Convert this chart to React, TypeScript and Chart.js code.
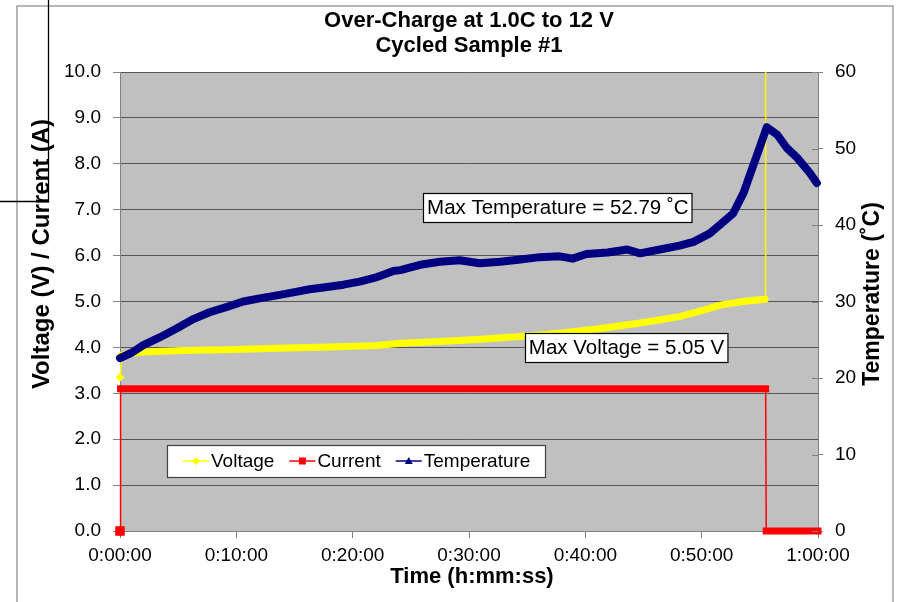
import React, { useEffect, useRef } from 'react';
import { Chart, registerables } from 'chart.js';

Chart.register(...registerables);

const TITLE_LINES = ['Over-Charge at 1.0C to 12 V', 'Cycled Sample #1'];
const X_TITLE = 'Time (h:mm:ss)';
const Y_TITLE = 'Voltage (V) / Current (A)';
const Y2_TITLE = 'Temperature (˚C)';
const SERIES_NAMES = ['Voltage', 'Current', 'Temperature'];
const SERIES_COLORS = ['#FFFF00', '#FF0000', '#000080'];

// time axis in minutes
const X_TICKS = [0, 10, 20, 30, 40, 50, 60];
const Y_TICKS = [0, 1, 2, 3, 4, 5, 6, 7, 8, 9, 10];
const Y2_TICKS = [0, 10, 20, 30, 40, 50, 60];

const voltageTime = [0, 0.15, 1, 2, 5.4, 9, 13.5, 18, 22.1, 24.1, 27.5, 31, 34.4, 37.8, 41, 44.7, 48.1, 50, 51.6, 53.5, 55.0, 55.45, 55.5];
const voltageValues = [3.35, 3.83, 3.87, 3.9, 3.93, 3.95, 3.98, 4.01, 4.04, 4.09, 4.13, 4.18, 4.24, 4.31, 4.4, 4.53, 4.67, 4.8, 4.92, 5.0, 5.04, 5.05, 12];

const currentTime = [0, 0.05, 55.5, 55.55, 60];
const currentValues = [0, 3.1, 3.1, 0, 0];

const tempTime = [0, 1.0, 2.0, 3.4, 4.9, 6.3, 7.7, 9.2, 10.6, 12.0, 13.5, 14.9, 16.3, 17.8, 19.2, 20.6, 22.1, 23.5, 24.1, 25.8, 27.5, 29.2, 30.9, 32.7, 34.4, 36.1, 37.8, 38.9, 40.1, 41.9, 43.6, 44.7, 46.4, 48.1, 49.3, 50.7, 51.4, 52.7, 53.6, 54.3, 55.0, 55.6, 56.5, 57.3, 58.2, 59.3, 59.9];
const tempValues = [22.6, 23.3, 24.3, 25.3, 26.5, 27.7, 28.6, 29.3, 30.0, 30.4, 30.8, 31.2, 31.6, 31.9, 32.2, 32.6, 33.2, 34.0, 34.1, 34.8, 35.2, 35.4, 35.0, 35.2, 35.5, 35.8, 35.9, 35.6, 36.2, 36.4, 36.8, 36.3, 36.8, 37.3, 37.8, 38.9, 39.8, 41.5, 44.2, 47.2, 50.2, 52.79, 51.8, 50.1, 48.8, 46.8, 45.5];

const ANNOTATIONS = [
  { text: 'Max Temperature = 52.79 ˚C', x: 26.05, y: 7.05 },
  { text: 'Max Voltage = 5.05 V', x: 34.8, y: 4.0 },
];

const FONT = "'Liberation Sans', Arial, sans-serif";

const fmtTime = (v: number) => {
  const h = Math.floor(v / 60);
  const m = Math.round(v % 60);
  return `${h}:${String(m).padStart(2, '0')}:00`;
};

const pts = (xs: number[], ys: number[]) => xs.map((x, i) => ({ x, y: ys[i] }));

const thinIfJump = (values: number[], thr: number, thick: number) => (ctx: any) =>
  Math.abs(values[ctx.p1DataIndex] - values[ctx.p0DataIndex]) > thr ? 1.5 : thick;

function drawMarker(ctx: CanvasRenderingContext2D, kind: string, x: number, y: number, color: string) {
  ctx.fillStyle = color;
  ctx.beginPath();
  if (kind === 'diamond') {
    ctx.moveTo(x, y - 4); ctx.lineTo(x + 4, y); ctx.lineTo(x, y + 4); ctx.lineTo(x - 4, y);
  } else if (kind === 'square') {
    ctx.rect(x - 3.5, y - 3.5, 7, 7);
  } else {
    ctx.moveTo(x, y - 4); ctx.lineTo(x + 4, y + 3); ctx.lineTo(x - 4, y + 3);
  }
  ctx.closePath();
  ctx.fill();
}

const decorPlugin = {
  id: 'decor',
  beforeDraw(chart: any) {
    const { ctx, chartArea: a } = chart;
    ctx.save();
    ctx.fillStyle = '#ffffff';
    ctx.fillRect(0, 0, chart.width, chart.height);
    ctx.fillStyle = '#c0c0c0';
    ctx.fillRect(a.left, a.top, a.right - a.left, a.bottom - a.top);
    ctx.restore();
  },
  afterDraw(chart: any) {
    const { ctx, chartArea: a, scales } = chart;
    ctx.save();
    // right axis inward ticks
    ctx.strokeStyle = '#808080';
    ctx.lineWidth = 1;
    Y2_TICKS.forEach((t) => {
      const y = Math.round(scales.y1.getPixelForValue(t)) + 0.5;
      ctx.beginPath();
      ctx.moveTo(a.right - 6, y);
      ctx.lineTo(a.right, y);
      ctx.stroke();
    });

    // titles
    ctx.fillStyle = '#000';
    ctx.textAlign = 'center';
    ctx.textBaseline = 'middle';
    ctx.font = `bold 22px ${FONT}`;
    const cx = (a.left + a.right) / 2;
    ctx.fillText(TITLE_LINES[0], cx, 21);
    ctx.fillText(TITLE_LINES[1], cx, 46);
    ctx.fillText(X_TITLE, cx + 3, 577);
    ctx.font = `bold 24px ${FONT}`;
    ctx.save();
    ctx.translate(42, 254);
    ctx.rotate(-Math.PI / 2);
    ctx.fillText(Y_TITLE, 0, 0);
    ctx.restore();
    ctx.font = `bold 23px ${FONT}`;
    ctx.save();
    ctx.translate(873, 294);
    ctx.rotate(-Math.PI / 2);
    ctx.fillText(Y2_TITLE, 0, 0);
    ctx.restore();

    // annotations
    ctx.font = `20.5px ${FONT}`;
    ctx.textAlign = 'left';
    ANNOTATIONS.forEach((an) => {
      const x = scales.x.getPixelForValue(an.x);
      const y = scales.y.getPixelForValue(an.y);
      const w = ctx.measureText(an.text).width + 7;
      const h = 29;
      ctx.fillStyle = '#fff';
      ctx.fillRect(Math.round(x) + 0.5, Math.round(y - h / 2) + 0.5, w, h);
      ctx.strokeStyle = '#000';
      ctx.lineWidth = 1.2;
      ctx.strokeRect(Math.round(x) + 0.5, Math.round(y - h / 2) + 0.5, w, h);
      ctx.fillStyle = '#000';
      ctx.fillText(an.text, x + 4, y + 1);
    });

    // legend
    const lx = 167, ly = 445, lw = 378, lh = 32;
    ctx.fillStyle = '#fff';
    ctx.fillRect(lx + 0.5, ly + 0.5, lw, lh);
    ctx.strokeStyle = '#404040';
    ctx.lineWidth = 1.2;
    ctx.strokeRect(lx + 0.5, ly + 0.5, lw, lh);
    ctx.font = `19px ${FONT}`;
    ctx.textBaseline = 'middle';
    const kinds = ['diamond', 'square', 'triangle'];
    let px = lx + 16;
    const my = ly + lh / 2;
    SERIES_NAMES.forEach((name, i) => {
      ctx.strokeStyle = SERIES_COLORS[i];
      ctx.lineWidth = 1.5;
      ctx.beginPath();
      ctx.moveTo(px, my);
      ctx.lineTo(px + 26, my);
      ctx.stroke();
      drawMarker(ctx, kinds[i], px + 13, my, SERIES_COLORS[i]);
      ctx.fillStyle = '#000';
      ctx.fillText(name, px + 28, my + 1);
      px += 28 + ctx.measureText(name).width + 15;
    });

    // outer frame
    ctx.strokeStyle = '#a0a0a0';
    ctx.lineWidth = 1.5;
    ctx.strokeRect(17, 6, 876, 620);

    // black crop lines
    ctx.strokeStyle = '#000';
    ctx.lineWidth = 1.3;
    ctx.beginPath();
    ctx.moveTo(48.5, 0);
    ctx.lineTo(48.5, 201.5);
    ctx.lineTo(0, 201.5);
    ctx.stroke();
    ctx.restore();
  },
};

export default function App() {
  const ref = useRef<HTMLCanvasElement | null>(null);
  useEffect(() => {
    document.body.style.margin = '0';
    if (!ref.current) return;
    const chart = new Chart(ref.current, {
      type: 'line',
      data: {
        datasets: [
          {
            label: SERIES_NAMES[2],
            data: pts(tempTime, tempValues),
            yAxisID: 'y1',
            borderColor: SERIES_COLORS[2],
            backgroundColor: SERIES_COLORS[2],
            borderWidth: 8,
            borderCapStyle: 'round',
            borderJoinStyle: 'round',
            pointStyle: 'triangle',
            pointRadius: (c: any) => (c.dataIndex === 0 ? 4 : 0),
            pointBorderWidth: 0,
            tension: 0,
            clip: { left: 8, top: 0, right: 6, bottom: 0 },
            order: 0,
          },
          {
            label: SERIES_NAMES[0],
            data: pts(voltageTime, voltageValues),
            yAxisID: 'y',
            borderColor: SERIES_COLORS[0],
            backgroundColor: SERIES_COLORS[0],
            borderWidth: 7,
            borderCapStyle: 'round',
            borderJoinStyle: 'round',
            segment: { borderWidth: thinIfJump(voltageValues, 0.3, 7) },
            pointStyle: 'rectRot',
            pointRadius: (c: any) => (c.dataIndex === 0 ? 4.5 : 0),
            pointBorderWidth: 0,
            tension: 0,
            clip: { left: 8, top: 0, right: 0, bottom: 0 },
            order: 1,
          },
          {
            label: SERIES_NAMES[1],
            data: pts(currentTime, currentValues),
            yAxisID: 'y',
            borderColor: SERIES_COLORS[1],
            backgroundColor: SERIES_COLORS[1],
            pointBackgroundColor: SERIES_COLORS[1],
            pointBorderColor: SERIES_COLORS[1],
            borderWidth: 7,
            borderCapStyle: 'square',
            segment: { borderWidth: thinIfJump(currentValues, 0.3, 7) },
            pointStyle: 'rect',
            pointRadius: (c: any) => (c.dataIndex === 0 ? 6 : 0),
            pointBorderWidth: 1,
            tension: 0,
            clip: false,
            order: 2,
          },
        ],
      },
      options: {
        animation: false,
        responsive: false,
        devicePixelRatio: 1,
        layout: { padding: { top: 72, left: 0, right: 0, bottom: 0 } },
        plugins: { legend: { display: false }, title: { display: false }, tooltip: { enabled: false } },
        scales: {
          x: {
            type: 'linear',
            min: 0,
            max: 60,
            afterFit: (s: any) => { s.height = 71; },
            afterBuildTicks: (s: any) => { s.ticks = X_TICKS.map((v) => ({ value: v })); },
            ticks: { callback: (v: any) => fmtTime(Number(v)), color: '#000', font: { family: FONT, size: 19 }, padding: 6, maxRotation: 0, autoSkip: false },
            grid: { drawOnChartArea: false, drawTicks: true, tickLength: 7, color: '#808080' },
            border: { color: '#808080', width: 1 },
          },
          y: {
            type: 'linear',
            position: 'left',
            min: 0,
            max: 10,
            afterFit: (s: any) => { s.width = 120; },
            afterBuildTicks: (s: any) => { s.ticks = Y_TICKS.map((v) => ({ value: v })); },
            ticks: { callback: (v: any) => Number(v).toFixed(1), color: '#000', font: { family: FONT, size: 19 }, padding: 12 },
            grid: { color: '#555555', tickColor: '#808080', tickLength: 7, lineWidth: 1 },
            border: { color: '#808080', width: 1 },
          },
          y1: {
            type: 'linear',
            position: 'right',
            min: 0,
            max: 60,
            afterFit: (s: any) => { s.width = 80; },
            afterBuildTicks: (s: any) => { s.ticks = Y2_TICKS.map((v) => ({ value: v })); },
            ticks: { callback: (v: any) => String(v), color: '#000', font: { family: FONT, size: 19 }, padding: 12 },
            grid: { drawOnChartArea: false, tickLength: 5, color: '#808080' },
            border: { color: '#808080', width: 1 },
          },
        },
      },
      plugins: [decorPlugin],
    } as any);
    return () => chart.destroy();
  }, []);
  return (
    <div style={{ width: 898, height: 602, position: 'relative' }}>
      <canvas ref={ref} width={898} height={602} style={{ display: 'block', width: 898, height: 602 }} />
    </div>
  );
}
